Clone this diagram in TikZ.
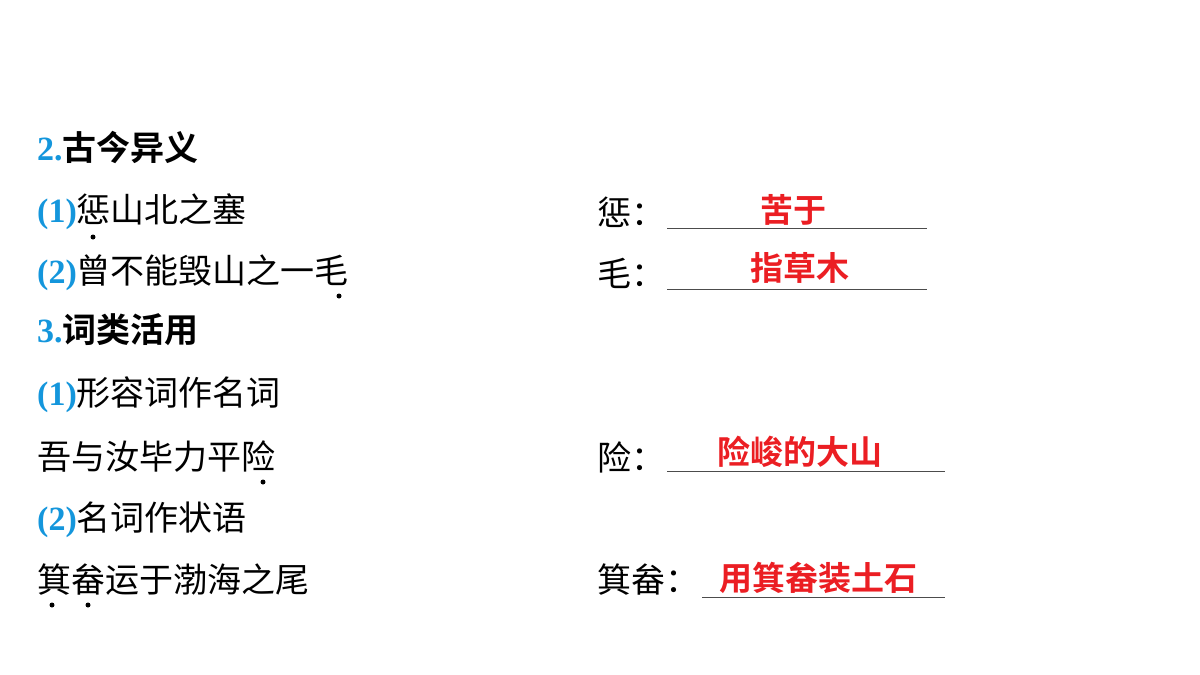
\documentclass[tikz,border=0pt]{standalone}
\usepackage{fontspec}
\setmainfont{Liberation Serif}
\newfontfamily\cjk{Noto Sans CJK SC}
\newfontfamily\cjkb{Noto Sans CJK SC Bold}
\definecolor{numblue}{RGB}{20,150,220}
\definecolor{ansred}{RGB}{235,30,35}
\begin{document}
\begin{tikzpicture}[x=1pt,y=-1pt,
  txt/.style = {anchor=west, inner sep=0pt, font=\fontsize{34}{40}\selectfont\cjk},
  head/.style = {anchor=west, inner sep=0pt, font=\fontsize{34}{40}\selectfont\cjkb},
  ans/.style = {inner sep=0pt, text=ansred, font=\fontsize{33}{40}\selectfont\cjkb},
  blank/.style = {draw=black!70, line width=0.6pt},
  dotmark/.style = {fill=black, circle, inner sep=0pt, minimum size=5pt}]
\useasboundingbox (0,0) rectangle (1200,675);

\node[head] (h2) at (37,147) {{\rmfamily\bfseries\color{numblue}2.}古今异义};
\node[txt] (l1) at (37,212) {{\rmfamily\bfseries\color{numblue}(1)}惩山北之塞};
\node[txt] (l2) at (37,273) {{\rmfamily\bfseries\color{numblue}(2)}曾不能毁山之一毛};
\node[head] (h3) at (37,330) {{\rmfamily\bfseries\color{numblue}3.}词类活用};
\node[txt] (l3) at (37,395) {{\rmfamily\bfseries\color{numblue}(1)}形容词作名词};
\node[txt] (l4) at (37,457) {吾与汝毕力平险};
\node[txt] (l5) at (37,520) {{\rmfamily\bfseries\color{numblue}(2)}名词作状语};
\node[txt] (l6) at (37,580) {箕畚运于渤海之尾};

\node[dotmark] (d1) at (93,237) {};
\node[dotmark] (d2) at (339,296) {};
\node[dotmark] (d3) at (263,482) {};
\node[dotmark] (d4) at (52,605) {};
\node[dotmark] (d5) at (88,605) {};

\node[txt] (r1) at (597,212) {惩：};
\node[txt] (r2) at (597,273) {毛：};
\node[txt] (r4) at (597,457) {险：};
\node[txt] (r6) at (597,580) {箕畚：};

\draw[blank] (667,228) -- (927,228);
\draw[blank] (667,289) -- (927,289);
\draw[blank] (667,471) -- (945,471);
\draw[blank] (702,597) -- (945,597);

\node[ans] (a1) at (793,210) {苦于};
\node[ans] (a2) at (800,268) {指草木};
\node[ans] (a4) at (800,452) {险峻的大山};
\node[ans] (a6) at (818,578) {用箕畚装土石};
\end{tikzpicture}
\end{document}
